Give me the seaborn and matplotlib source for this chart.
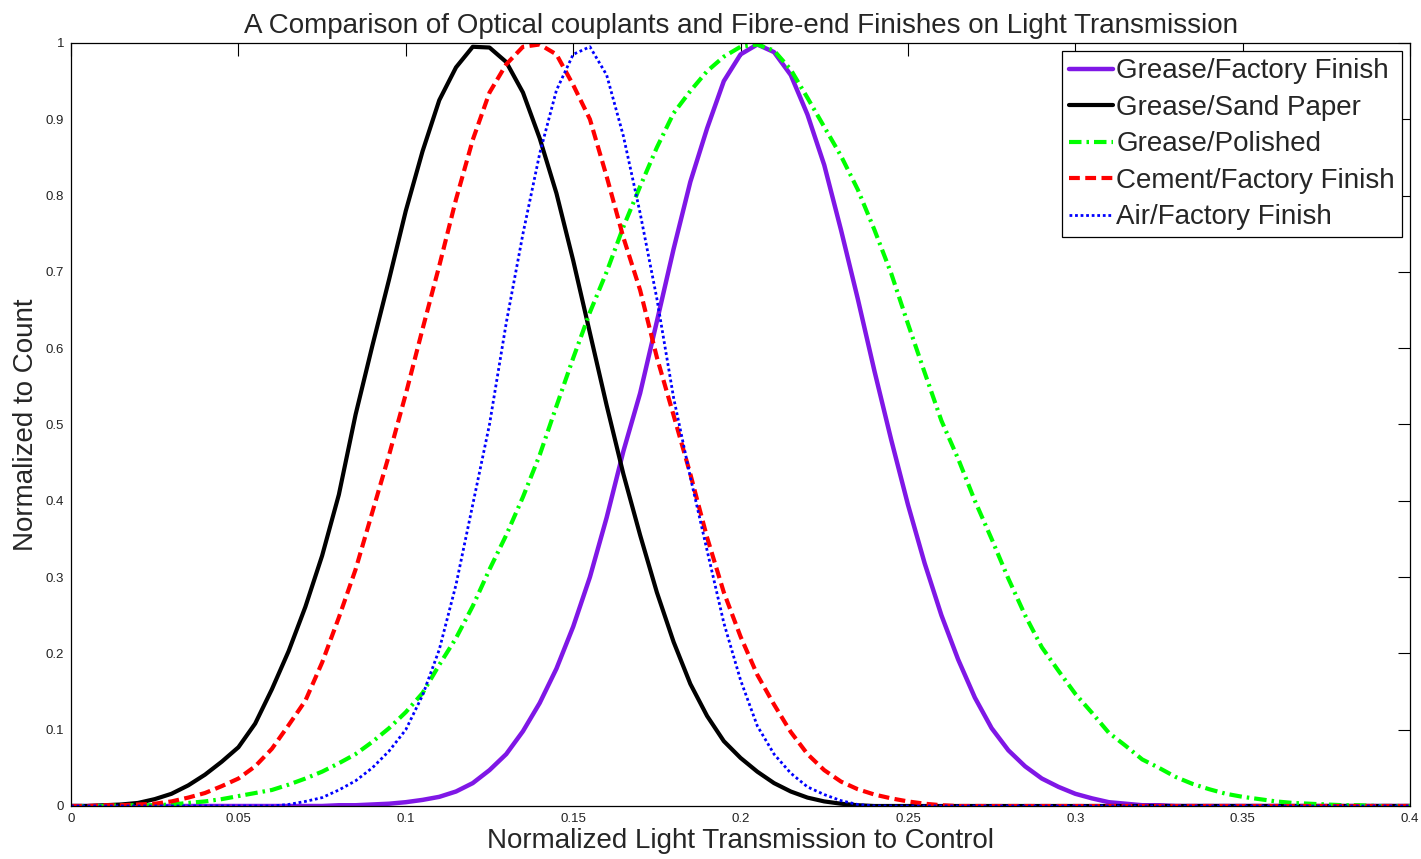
import matplotlib
matplotlib.use('Agg')
import matplotlib.pyplot as plt
import matplotlib.ticker as mtick
import seaborn as sns

# transmission grid (normalized to control)
x_vals = [0.000, 0.005, 0.010, 0.015, 0.020, 0.025, 0.030, 0.035, 0.040, 0.045,
          0.050, 0.055, 0.060, 0.065, 0.070, 0.075, 0.080, 0.085, 0.090, 0.095,
          0.100, 0.105, 0.110, 0.115, 0.120, 0.125, 0.130, 0.135, 0.140, 0.145,
          0.150, 0.155, 0.160, 0.165, 0.170, 0.175, 0.180, 0.185, 0.190, 0.195,
          0.200, 0.205, 0.210, 0.215, 0.220, 0.225, 0.230, 0.235, 0.240, 0.245,
          0.250, 0.255, 0.260, 0.265, 0.270, 0.275, 0.280, 0.285, 0.290, 0.295,
          0.300, 0.305, 0.310, 0.315, 0.320, 0.325, 0.330, 0.335, 0.340, 0.345,
          0.350, 0.355, 0.360, 0.365, 0.370, 0.375, 0.380, 0.385, 0.390, 0.395,
          0.400]

grease_factory = [0, 0, 0, 0, 0, 0, 0, 0, 0, 0,
                  0, 0, 0, 0, 0, 0, 0.001, 0.001, 0.002, 0.003,
                  0.005, 0.008, 0.012, 0.019, 0.030, 0.047, 0.068, 0.098, 0.135, 0.180,
                  0.235, 0.300, 0.378, 0.465, 0.541, 0.635, 0.730, 0.818, 0.888, 0.950,
                  0.985, 0.998, 0.988, 0.958, 0.906, 0.840, 0.755, 0.665, 0.570, 0.480,
                  0.395, 0.318, 0.250, 0.192, 0.142, 0.102, 0.073, 0.052, 0.036, 0.025,
                  0.016, 0.010, 0.005, 0.003, 0.001, 0.001, 0, 0, 0, 0,
                  0, 0, 0, 0, 0, 0, 0, 0, 0, 0,
                  0]

grease_sandpaper = [0, 0, 0.001, 0.002, 0.004, 0.009, 0.016, 0.027, 0.041, 0.058,
                    0.077, 0.108, 0.153, 0.203, 0.261, 0.328, 0.408, 0.513, 0.603, 0.690,
                    0.780, 0.858, 0.925, 0.968, 0.995, 0.994, 0.975, 0.935, 0.875, 0.803,
                    0.715, 0.620, 0.525, 0.435, 0.355, 0.280, 0.215, 0.160, 0.118, 0.085,
                    0.063, 0.045, 0.030, 0.019, 0.011, 0.006, 0.003, 0.001, 0, 0,
                    0, 0, 0, 0, 0, 0, 0, 0, 0, 0,
                    0, 0, 0, 0, 0, 0, 0, 0, 0, 0,
                    0, 0, 0, 0, 0, 0, 0, 0, 0, 0,
                    0]

grease_polished = [0, 0, 0, 0.001, 0.001, 0.001, 0.002, 0.004, 0.006, 0.009,
                   0.013, 0.017, 0.021, 0.028, 0.036, 0.045, 0.056, 0.068, 0.084, 0.102,
                   0.123, 0.148, 0.185, 0.220, 0.262, 0.310, 0.355, 0.405, 0.460, 0.524,
                   0.587, 0.647, 0.700, 0.759, 0.812, 0.863, 0.908, 0.937, 0.963, 0.982,
                   0.995, 0.998, 0.990, 0.965, 0.928, 0.890, 0.852, 0.808, 0.755, 0.698,
                   0.632, 0.568, 0.505, 0.455, 0.400, 0.350, 0.298, 0.250, 0.208, 0.177,
                   0.147, 0.122, 0.096, 0.079, 0.061, 0.050, 0.038, 0.029, 0.022, 0.016,
                   0.012, 0.009, 0.006, 0.004, 0.003, 0.002, 0.001, 0.001, 0, 0,
                   0]

cement_factory = [0, 0, 0.001, 0.001, 0.002, 0.003, 0.006, 0.011, 0.017, 0.026,
                  0.036, 0.052, 0.075, 0.106, 0.138, 0.188, 0.247, 0.310, 0.385, 0.460,
                  0.540, 0.625, 0.708, 0.795, 0.873, 0.935, 0.972, 0.995, 0.998, 0.985,
                  0.945, 0.900, 0.825, 0.745, 0.676, 0.588, 0.512, 0.435, 0.352, 0.280,
                  0.222, 0.172, 0.133, 0.097, 0.068, 0.047, 0.032, 0.022, 0.015, 0.010,
                  0.006, 0.003, 0.001, 0, 0, 0, 0, 0, 0, 0,
                  0, 0, 0, 0, 0, 0, 0, 0, 0, 0,
                  0, 0, 0, 0, 0, 0, 0, 0, 0, 0,
                  0]

air_factory = [0, 0, 0, 0, 0, 0, 0, 0, 0, 0,
               0, 0, 0, 0.002, 0.006, 0.011, 0.021, 0.033, 0.050, 0.072,
               0.100, 0.145, 0.205, 0.290, 0.395, 0.500, 0.633, 0.750, 0.855, 0.938,
               0.985, 0.995, 0.958, 0.878, 0.777, 0.665, 0.535, 0.431, 0.335, 0.240,
               0.165, 0.105, 0.068, 0.043, 0.025, 0.015, 0.007, 0.002, 0, 0,
               0, 0, 0, 0, 0, 0, 0, 0, 0, 0,
               0, 0, 0, 0, 0, 0, 0, 0, 0, 0,
               0, 0, 0, 0, 0, 0, 0, 0, 0, 0,
               0]

series = [
    ('Grease/Factory Finish', grease_factory, '#7f17e6', '-', 3.2),
    ('Grease/Sand Paper', grease_sandpaper, 'black', '-', 3.0),
    ('Grease/Polished', grease_polished, '#00ff00', (0, (3.0, 1.2, 0.6, 1.2)), 3.0),
    ('Cement/Factory Finish', cement_factory, '#ff0000', (0, (2.6, 1.3)), 3.0),
    ('Air/Factory Finish', air_factory, '#0000ff', (0, (1.0, 1.0)), 2.0),
]

sns.set_style('white')
plt.rcParams['font.family'] = ['Liberation Sans', 'DejaVu Sans']

fig = plt.figure(figsize=(14.21, 8.59), dpi=100)
ax = fig.add_axes([0.050, 0.0617, 0.9423, 0.8883])

for name, vals, col, ls, lw in series:
    sns.lineplot(x=x_vals, y=vals, ax=ax, color=col, linestyle=ls, linewidth=lw, label=name)

ax.set_xlim(0, 0.4)
ax.set_ylim(0, 1)
ax.set_xticks([0, 0.05, 0.1, 0.15, 0.2, 0.25, 0.3, 0.35, 0.4])
ax.set_yticks([0, 0.1, 0.2, 0.3, 0.4, 0.5, 0.6, 0.7, 0.8, 0.9, 1])
ax.xaxis.set_major_formatter(mtick.FormatStrFormatter('%g'))
ax.yaxis.set_major_formatter(mtick.FormatStrFormatter('%g'))
ax.tick_params(direction='in', length=9, width=0.8, labelsize=9.5, colors='black',
               labelcolor='#222222', top=True, right=True, pad=5)
for sp in ax.spines.values():
    sp.set_visible(True)
    sp.set_color('black')
    sp.set_linewidth(0.9)

ax.set_title('A Comparison of Optical couplants and Fibre-end Finishes on Light Transmission',
             fontsize=20, pad=7)
ax.set_xlabel('Normalized Light Transmission to Control', fontsize=20, labelpad=2)
ax.set_ylabel('Normalized to Count', fontsize=20, labelpad=5)

leg = ax.legend(loc='upper right', fontsize=20, frameon=True, fancybox=False,
                edgecolor='black', framealpha=1, borderpad=0.25, labelspacing=0.38,
                handlelength=1.6, handletextpad=0.1, borderaxespad=0.3)
leg.get_frame().set_linewidth(0.9)

fig.savefig('out.png', dpi=100)
